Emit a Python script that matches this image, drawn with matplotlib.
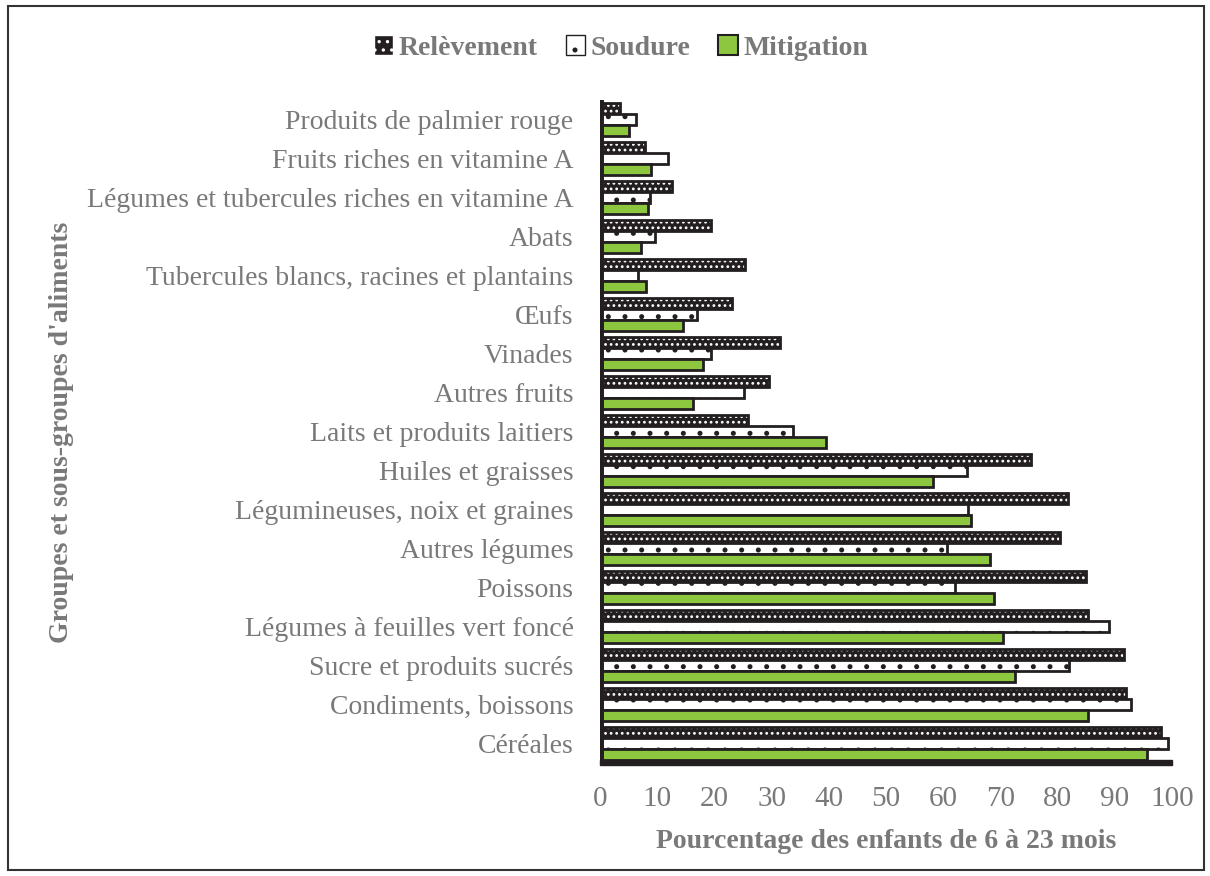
import matplotlib
matplotlib.use('Agg')
import matplotlib.pyplot as plt
import numpy as np
from matplotlib.patches import Patch, Rectangle

categories = ['Produits de palmier rouge', 'Fruits riches en vitamine A',
              'Légumes et tubercules riches en vitamine A', 'Abats',
              'Tubercules blancs, racines et plantains', 'Œufs', 'Vinades',
              'Autres fruits', 'Laits et produits laitiers', 'Huiles et graisses',
              'Légumineuses, noix et graines', 'Autres légumes', 'Poissons',
              'Légumes à feuilles vert foncé', 'Sucre et produits sucrés',
              'Condiments, boissons', 'Céréales']
relevement = [3.5, 7.9, 12.6, 19.4, 25.3, 23.0, 31.5, 29.5, 25.9, 75.3,
              81.8, 80.4, 85.0, 85.3, 91.6, 92.0, 98.0]
soudure = [6.3, 11.9, 8.7, 9.6, 6.6, 17.0, 19.4, 25.2, 33.7, 64.2,
           64.3, 60.7, 62.0, 89.0, 82.0, 92.8, 99.3]
mitigation = [5.0, 8.9, 8.4, 7.2, 8.0, 14.5, 18.0, 16.3, 39.5, 58.2,
              64.9, 68.2, 68.8, 70.4, 72.5, 85.3, 95.6]
xticks = [0, 10, 20, 30, 40, 50, 60, 70, 80, 90, 100]

plt.rcParams['font.family'] = ['Liberation Serif', 'DejaVu Serif']
plt.rcParams['hatch.linewidth'] = 1.2
gray = '#797979'
dark = '#231F20'
green = '#8DC63F'

fig = plt.figure(figsize=(12.1, 8.76), dpi=100)
ax = fig.add_axes([600 / 1210, 1 - 765 / 876, 572 / 1210, 665 / 876])

n = len(categories)
y = np.arange(n)[::-1]
h = 0.28
off = 0.29

# Relèvement: dark bar with white dashes
ax.barh(y + off, relevement, height=h, color=dark, edgecolor='white', hatch='...', lw=0)
ax.barh(y + off, relevement, height=h, fill=False, edgecolor=dark, lw=2)
# Soudure: white with dots
ax.barh(y, soudure, height=h, color='white', edgecolor=dark, hatch='.', lw=0)
ax.barh(y, soudure, height=h, fill=False, edgecolor=dark, lw=2)
# Mitigation: green
ax.barh(y - off, mitigation, height=h, color=green, edgecolor=dark, lw=2)

ax.set_xlim(0, 100)
ax.set_ylim(-0.55, n - 0.5)
ax.set_xticks(xticks)
ax.set_xticklabels([str(v) for v in xticks], fontsize=21, color=gray)
ax.set_yticks(y)
ax.set_yticklabels(categories, fontsize=20, color=gray)
ax.tick_params(length=0)
ax.tick_params(axis='y', pad=19)
ax.tick_params(axis='x', pad=15)
for s in ax.spines.values():
    s.set_visible(False)

# wall and floor
ax.axvline(0, color=dark, lw=5, zorder=5)
ax.add_patch(Rectangle((0, -0.55), 100, 0.14, color=dark, zorder=5, clip_on=False))

ax.set_xlabel('Pourcentage des enfants de 6 à 23 mois', fontsize=20,
              fontweight='bold', color=gray, labelpad=12)
fig.text(62 / 1210, 1 - 432 / 876, "Groupes et sous-groupes d'aliments", rotation=90,
         fontsize=20, fontweight='bold', color=gray, ha='center', va='center')

handles = [Patch(facecolor=dark, edgecolor='white', hatch='..'),
           Patch(facecolor='white', edgecolor=dark, hatch='.'),
           Patch(facecolor=green, edgecolor=dark, lw=1.5)]
leg = fig.legend(handles, ['Relèvement', 'Soudure', 'Mitigation'], loc='center',
                 bbox_to_anchor=(621 / 1210, 1 - 48 / 876), ncol=3, frameon=False,
                 prop={'weight': 'bold', 'size': 20}, handlelength=0.7,
                 handleheight=0.7, handletextpad=0.2, columnspacing=1.0)
for t in leg.get_texts():
    t.set_color(gray)

fig.add_artist(Rectangle((8 / 1210, 6 / 876), 1196 / 1210, 864 / 876,
                         transform=fig.transFigure, fill=False, edgecolor='#333333', lw=1.5))

fig.savefig('out.png', dpi=100)
